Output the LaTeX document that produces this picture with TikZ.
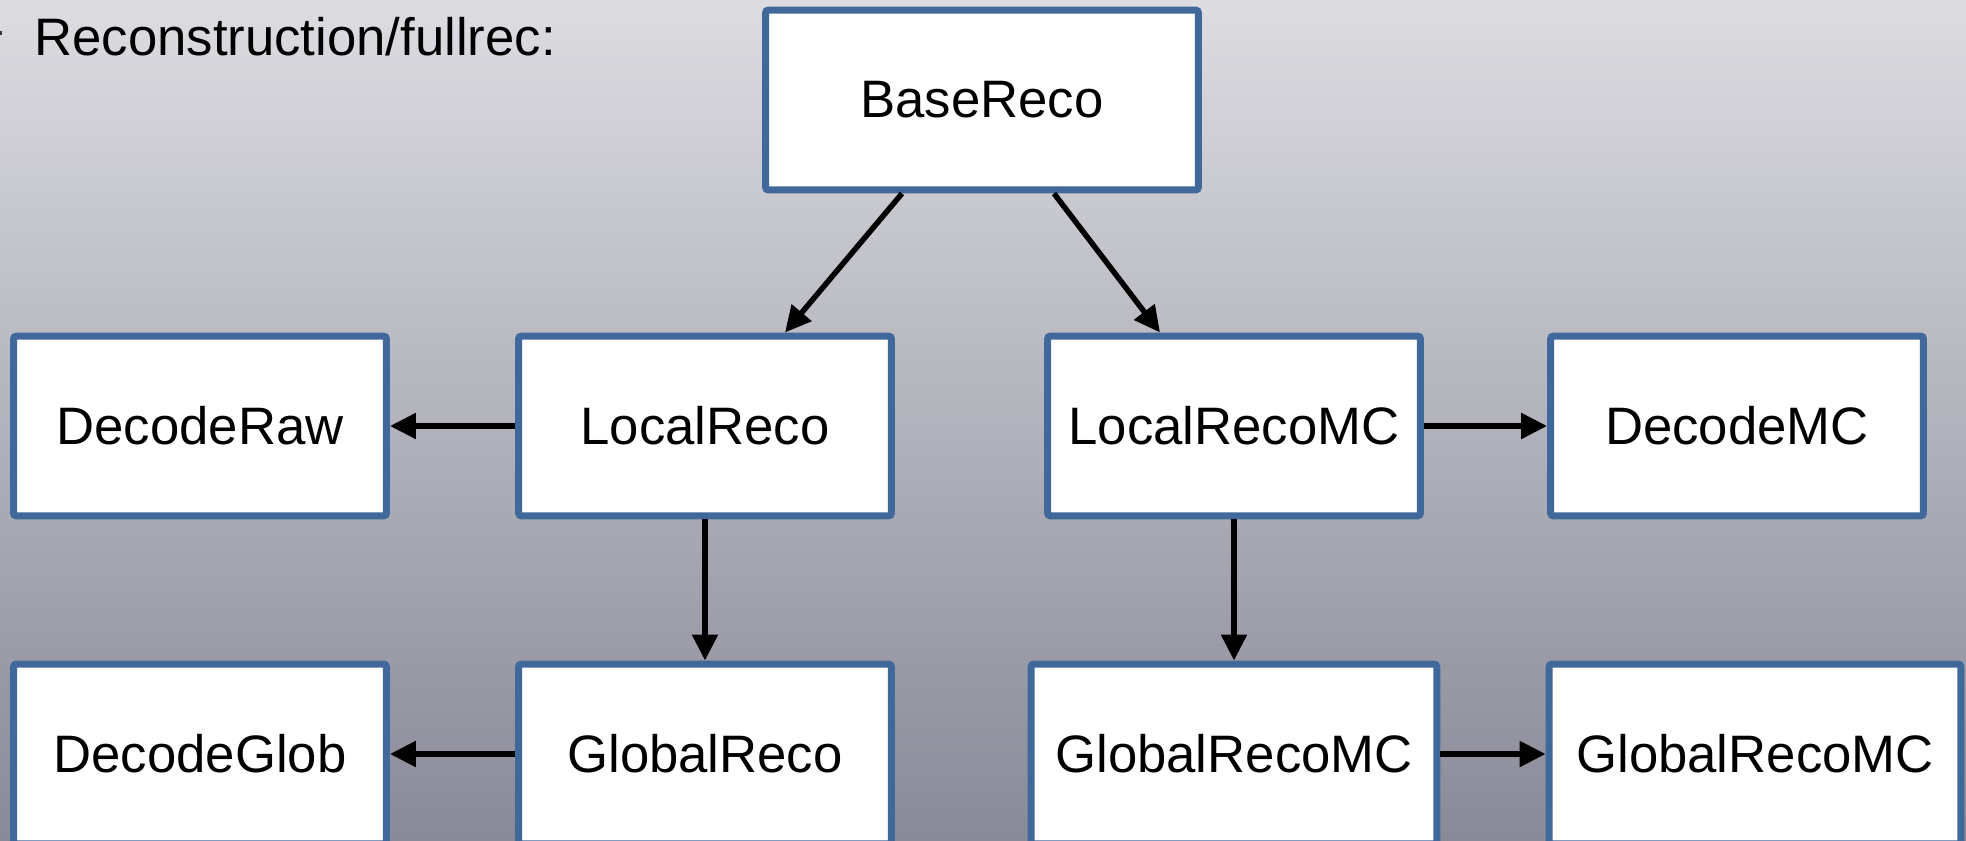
\documentclass[tikz,border=0pt]{standalone}
\usepackage{fontspec}
\setmainfont{Liberation Sans}
\usetikzlibrary{arrows.meta,calc}
\definecolor{bordo}{RGB}{65,104,154}
\definecolor{sfondoalto}{RGB}{220,220,225}
\definecolor{sfondobasso}{RGB}{137,137,152}
\begin{document}
\begin{tikzpicture}[x=0.02cm, y=-0.02cm,
	modulo/.style={draw=bordo, fill=white, line width=0.14cm, rounded corners=0.06cm,
		minimum width=7.46cm, minimum height=3.6cm, inner sep=0pt, font=\fontsize{30}{36}\selectfont},
	largo/.style={minimum width=8.12cm},
	freccia/.style={-{Triangle[length=0.52cm, width=0.5cm]}, line width=0.11cm, black},
	titolo/.style={font=\fontsize{30}{36}\selectfont, inner sep=0pt, anchor=base west},
	]
	
	\def\rigaA{100}     % riga superiore
	\def\rigaB{426}     % riga centrale
	\def\rigaC{754}     % riga inferiore
	
	% sfondo sfumato
	\useasboundingbox (0,0) rectangle (1966,841);
	\fill[top color=sfondoalto, bottom color=sfondobasso] (0,0) rectangle (1966,841);
	
	% titolo
	\fill[black!80] (-3,31) rectangle (2,35);
	\node[titolo] (tit) at (34,56) {Reconstruction/fullrec:};
	
	%%=== moduli ===
	\node[modulo, minimum width=8.66cm] (base) at (982,\rigaA) {BaseReco};
	
	\node[modulo] (decraw)  at (200,\rigaB)  {DecodeRaw};
	\node[modulo] (lreco)   at (705,\rigaB)  {LocalReco};
	\node[modulo] (lrecomc) at (1234,\rigaB) {LocalRecoMC};
	\node[modulo] (decmc)   at (1737,\rigaB) {DecodeMC};
	
	\node[modulo] (decglob)  at (200,\rigaC)  {DecodeGlob};
	\node[modulo] (greco)    at (705,\rigaC)  {GlobalReco};
	\node[modulo, largo] (grecomc)  at (1234,\rigaC) {GlobalRecoMC};
	\node[modulo, minimum width=8.24cm] (grecomcb) at (1755,\rigaC) {GlobalRecoMC};
	
	%%=== frecce ===
	\draw[freccia] ($(base.south)+(-80,0)$) -- ($(lreco.north)+(80,0)$);
	\draw[freccia] ($(base.south)+(72,0)$) -- ($(lrecomc.north)+(-74,0)$);
	
	\draw[freccia] (lreco.west) -- (decraw.east);
	\draw[freccia] (lrecomc.east) -- (decmc.west);
	\draw[freccia] (lreco.south) -- (greco.north);
	\draw[freccia] (lrecomc.south) -- (grecomc.north);
	
	\draw[freccia] (greco.west) -- (decglob.east);
	\draw[freccia] (grecomc.east) -- (grecomcb.west);
	
\end{tikzpicture}
\end{document}
